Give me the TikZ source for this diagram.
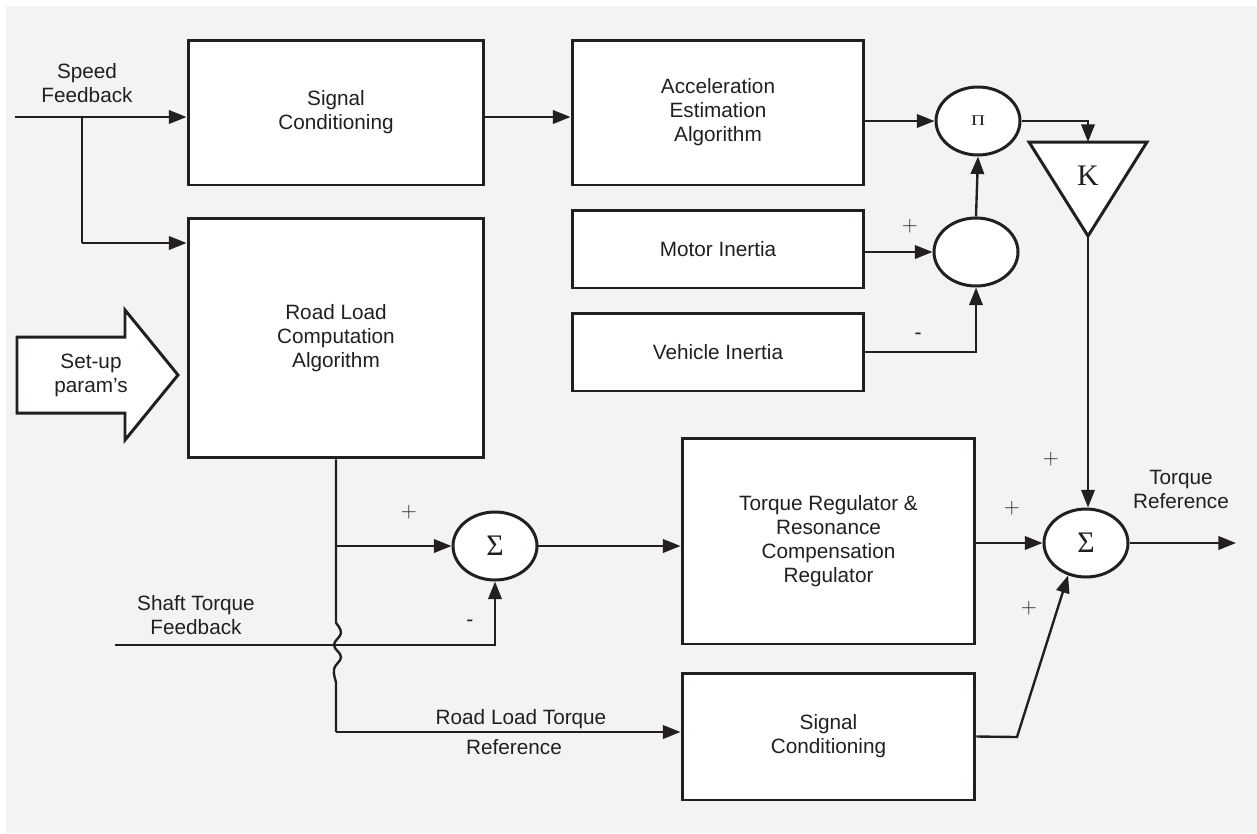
\documentclass[tikz,border=0pt]{standalone}
\usepackage{fontspec}
\setmainfont{Liberation Sans}
\newfontfamily\serifgr{Liberation Serif}
\usetikzlibrary{arrows.meta,calc,shapes.geometric}
\definecolor{ink}{HTML}{231F20}
\definecolor{bgc}{HTML}{F3F3F3}
\begin{document}
\begin{tikzpicture}[x=0.02cm,y=-0.02cm,
  every node/.style={font=\fontsize{11.8}{13.7}\selectfont, text=ink},
  box/.style={draw=ink, line width=1.7pt, fill=white, align=center, inner sep=0pt},
  sumnode/.style={ellipse, draw=ink, line width=1.7pt, fill=white, minimum width=1.68cm, minimum height=1.36cm, inner sep=0pt, font=\fontsize{17}{17}\selectfont\serifgr},
  wire/.style={draw=ink, line width=1.35pt},
  arr/.style={wire, -{Triangle[length=10pt,width=7.6pt]}},
  sign/.style={font=\fontsize{13}{13}\selectfont},
  lbl/.style={align=center}
]
\useasboundingbox (0,0) rectangle (1257,833);
\fill[bgc] (6,6) rectangle (1257,833);

% blocks
\node[box, minimum width=5.92cm, minimum height=2.9cm] (sc1) at (336,112.5) {Signal\\Conditioning};
\node[box, minimum width=5.84cm, minimum height=2.9cm] (acc) at (718,112.5) {Acceleration\\Estimation\\Algorithm};
\node[box, minimum width=5.92cm, minimum height=4.8cm] (rl) at (336,338) {Road Load\\Computation\\Algorithm};
\node[box, minimum width=5.84cm, minimum height=1.56cm] (mi) at (718,249) {Motor Inertia};
\node[box, minimum width=5.84cm, minimum height=1.56cm] (vi) at (718,352) {Vehicle Inertia};
\node[box, minimum width=5.86cm, minimum height=4.12cm] (tr) at (828.5,541) {Torque Regulator \&\\Resonance\\Compensation\\Regulator};
\node[box, minimum width=5.86cm, minimum height=2.54cm] (sc2) at (828.5,736.5) {Signal\\Conditioning};

% summing / product junctions
\node[sumnode] (pi) at (978,121) {\scalebox{1.3}[1]{\fontsize{8.5}{8.5}\selectfont\serifgr Π}};
\node[sumnode] (mid) at (976,252) {};
\node[sumnode] (sm) at (495,546) {Σ};
\node[sumnode] (sr) at (1086,543) {Σ};

% gain K
\coordinate (Ktl) at (1029,142);
\coordinate (Ktr) at (1147,142);
\coordinate (Kb) at (1088,236);
\coordinate (Ktop) at (1088,142);
\draw[ink, line width=1.7pt, fill=white, line join=miter] (Ktl) -- (Ktr) -- (Kb) -- cycle;
\node[font=\fontsize{17}{17}\selectfont\serifgr] (K) at (1088,176) {K};

% set-up arrow
\draw[ink, line width=1.7pt, fill=white, line join=miter]
  (17,337) -- (125,337) -- (125,310) -- (178,375) -- (125,440) -- (125,413) -- (17,413) -- cycle;
\node[lbl] (setup) at (91,375) {Set-up\\param’s};

% speed feedback
\coordinate (sfin) at (15,117);
\coordinate (br1) at (82,117);
\coordinate (br2) at (82,243);
\node[lbl] (sfl) at (87,83) {Speed\\Feedback};
\draw[arr] (sfin) -- (sfin -| sc1.west);
\draw[wire] (br1) -- (br2);
\draw[arr] (br2) -- (br2 -| rl.west);
\draw[arr] (sc1.east |- sfin) -- (acc.west |- sfin);

% top right
\draw[arr] (acc.east |- pi.west) -- (pi.west);
\draw[arr] (pi.east) -| (Ktop);
\draw[arr] (mid.north) -- (pi.south);
\draw[arr] (mi.east |- mid.west) -- (mid.west);
\draw[arr] (vi.east) -| (mid.south);
\node[sign] at (910,226) {$+$};
\node[font=\fontsize{12}{12}\selectfont] at (918,336) {-};

% K to output sum
\draw[arr] (Kb) -- (Kb |- sr.north);
\draw[arr] (tr.east |- sr.west) -- (sr.west);
\coordinate (bend) at (1017,737);
\draw[arr] (sc2.east) -- (bend) -- (sr.241);
\coordinate (out) at (1236,543);
\draw[arr] (sr.east) -- (out);
\node[lbl] (trl) at (1181,489) {Torque\\Reference};
\node[sign] at (1051,459) {$+$};
\node[sign] at (1012,508) {$+$};
\node[sign] at (1029,608) {$+$};

% road load path with crossing
\coordinate (j1) at (rl.south |- sm.west);
\draw[wire] (rl.south) -- (336,623)
  plot[smooth, tension=0.7] coordinates {(336,623) (341,633) (334,645) (341,657) (334,669) (336,682)}
  -- (336,732);
\draw[arr] (336,732) -- (sc2.west |- 0,732);
\draw[arr] (j1) -- (sm.west);
\node[sign] at (409,512) {$+$};
\node (rlt1) at (521,719) {Road Load Torque};
\node (rlt2) at (514,747) {Reference};

% shaft torque
\coordinate (shin) at (115,645);
\draw[arr] (shin) -| (sm.south);
\node[lbl] (stl) at (196,615) {Shaft Torque\\Feedback};
\node[font=\fontsize{12}{12}\selectfont] at (470,623) {-};

\draw[arr] (sm.east) -- (tr.west |- sm.east);
\end{tikzpicture}
\end{document}
